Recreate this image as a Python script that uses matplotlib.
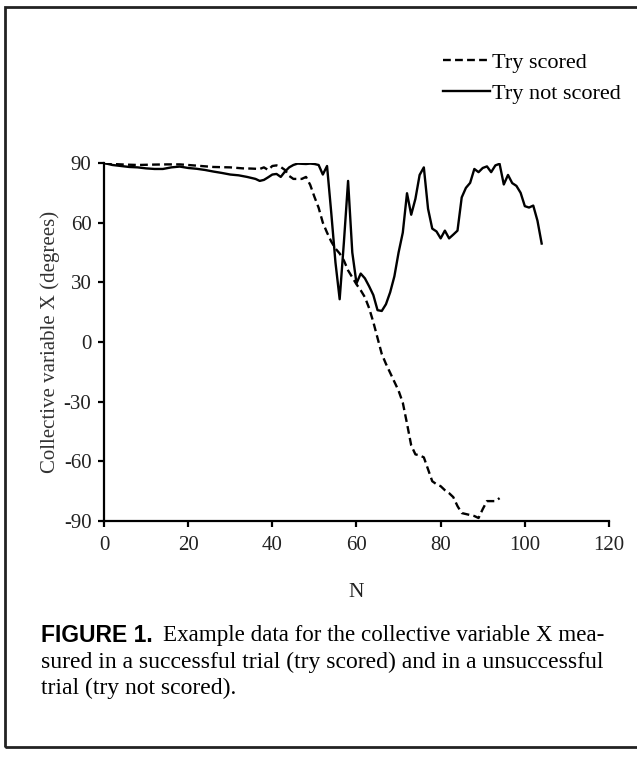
import numpy as np
import matplotlib.pyplot as plt
from matplotlib.patches import Rectangle

# try scored (dashed line)
n_scored = [0, 2, 5, 8, 12, 15, 18, 20, 23, 26, 30, 33, 35, 37, 38, 39, 40, 41, 42, 43,
            44, 45, 46, 47, 48, 49, 50, 51, 52, 53, 54, 55, 56, 57, 58, 59, 60, 61, 62, 63,
            64, 65, 66, 67, 68, 69, 70, 71, 72, 73, 74, 75, 76, 77, 78, 79, 80, 81, 82, 83,
            84, 85, 86, 87, 88, 89, 90, 91, 92, 93, 94]
x_scored = [90, 89.5, 89.2, 89, 89.2, 89.3, 89.3, 89, 88.5, 88, 87.8, 87.3, 87.2, 87, 87.8,
            86.5, 88.5, 88.8, 88, 86.5, 83.5, 82, 82, 82, 83, 79, 73, 67.5, 60, 55, 50.5, 47,
            44.5, 41, 36, 32.5, 29, 26, 22.5, 17, 10, 2, -6, -11, -15.5, -20, -24.5, -30.5,
            -41, -52, -56.5, -57, -58, -64, -70, -71.5, -72.5, -74.5, -76, -78, -82.5, -86,
            -86.5, -87, -87.5, -88.5, -84, -80, -80, -80, -78.5]

# try not scored (solid line)
n_missed = [0, 2, 4, 6, 8, 10, 12, 14, 16, 18, 20, 22, 24, 26, 28, 30, 32, 34, 36, 37, 38,
            39, 40, 41, 42, 43, 44, 45, 46, 47, 48, 49, 50, 51, 52, 53, 54, 55, 56, 57, 58,
            59, 60, 61, 62, 63, 64, 65, 66, 67, 68, 69, 70, 71, 72, 73, 74, 75, 76, 77, 78,
            79, 80, 81, 82, 83, 84, 85, 86, 87, 88, 89, 90, 91, 92, 93, 94, 95, 96, 97, 98,
            99, 100, 101, 102, 103, 104]
x_missed = [90, 89, 88.5, 88, 87.8, 87.3, 87, 87, 87.8, 88.2, 87.5, 87.1, 86.5, 85.7, 85,
            84.2, 83.8, 83, 82, 81, 81.5, 82.8, 84.2, 84.5, 83, 85.7, 87.8, 89, 89.7, 89.6,
            89.5, 89.7, 89.5, 89, 84.2, 88.5, 65, 40, 21.5, 50, 81, 45, 29.5, 34.4, 32, 28,
            23.6, 16, 15.6, 19, 25, 33, 45, 55, 74.8, 64, 72, 84, 87.8, 67, 57, 55.6, 52.1,
            56, 52.1, 54, 56, 72.7, 77.5, 80, 87, 85.4, 87.5, 88.3, 85.4, 88.8, 89.6, 79.2,
            84, 79.9, 78.5, 75, 68.3, 67.6, 68.6, 61, 49.5]

xticks = [0, 20, 40, 60, 80, 100, 120]
yticks = [-90, -60, -30, 0, 30, 60, 90]

plt.rcParams['font.family'] = ['Liberation Serif', 'DejaVu Serif']
plt.rcParams['axes.unicode_minus'] = False
W, H = 637, 758
fig = plt.figure(figsize=(W / 100, H / 100), dpi=100)

ax = fig.add_axes([104 / W, 1 - 521 / H, 505 / W, 358 / H])
ax.plot(n_scored, x_scored, color='black', lw=1.7, ls=(0, (3.3, 1.8)), label='Try scored')
ax.plot(n_missed, x_missed, color='black', lw=1.7, label='Try not scored')

ax.set_xlim(0, 120)
ax.set_ylim(-90, 90)
ax.set_xticks(xticks)
ax.set_yticks(yticks)
ax.spines['top'].set_visible(False)
ax.spines['right'].set_visible(False)
for s in ['left', 'bottom']:
    ax.spines[s].set_linewidth(1.6)
ax.tick_params(labelsize=15, width=1.6, length=4, color='black', labelcolor='#222222')
ax.tick_params(axis='x', pad=7)
ax.tick_params(axis='y', pad=5)

ax.set_xlabel('N', fontsize=15.5, labelpad=20, color='#222222')
ax.set_ylabel('Collective variable X (degrees)', fontsize=15, labelpad=3, color='#333333')

ax.legend(loc='upper left', bbox_to_anchor=(443 / W, 1 - 52 / H),
          bbox_transform=fig.transFigure, frameon=False, fontsize=16,
          handlelength=2.1, handletextpad=0.1, labelspacing=0.5,
          borderpad=0, borderaxespad=0)

# caption, bold label first then the text after it
r = fig.canvas.get_renderer()
t = fig.text(41 / W, 1 - 636 / H, 'FIGURE 1.', fontsize=16.5, fontweight='bold',
             family=['Liberation Sans Narrow', 'Liberation Sans'], va='center')
bb = t.get_window_extent(renderer=r)
fig.text(bb.x1 / W + 10 / W, 1 - 636 / H, 'Example data for the collective variable X mea-',
         fontsize=16.6, va='center')
fig.text(41 / W, 1 - 662 / H, 'sured in a successful trial (try scored) and in a unsuccessful',
         fontsize=17, va='center')
fig.text(41 / W, 1 - 688 / H, 'trial (try not scored).', fontsize=17, va='center')

# outer frame
fig.patches.append(Rectangle((5 / W, 1 - 747 / H), 1.0, 740 / H, transform=fig.transFigure,
                             fill=False, lw=2, edgecolor='#222222'))

fig.savefig('out.png', dpi=100)
